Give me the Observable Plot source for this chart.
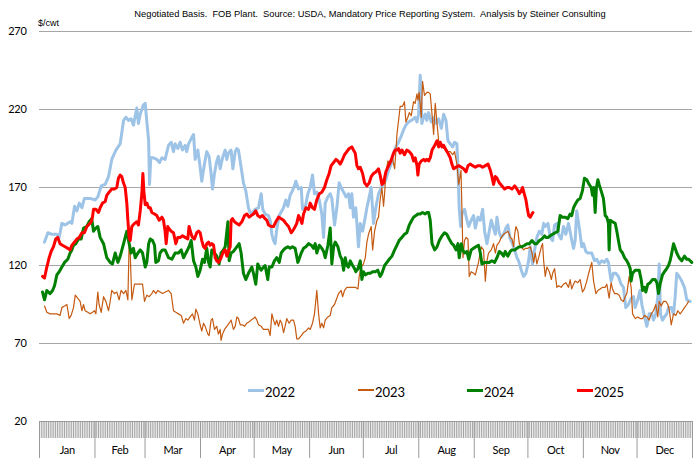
<!DOCTYPE html>
<html><head><meta charset="utf-8">
<script src="https://cdn.jsdelivr.net/npm/d3@7"></script>
<script src="https://cdn.jsdelivr.net/npm/@observablehq/plot@0.6"></script>
<style>
body{margin:0;background:#fff;}
#wrap{position:relative;width:698px;height:458px;overflow:hidden;}
#title{position:absolute;left:0;width:740px;top:9px;text-align:center;font:9.3px "Liberation Sans",Arial,sans-serif;color:#000;white-space:pre;}
#unit{position:absolute;left:38px;top:18px;font:9px "Liberation Sans",Arial,sans-serif;color:#000;}
.lg{position:absolute;font:13px Lato,sans-serif;color:#000;top:384px;}
.sw{position:absolute;}
svg text{letter-spacing:-0.3px;}
</style></head>
<body>
<div id="wrap">
<div id="chart"></div>
<div id="title">Negotiated Basis.  FOB Plant.  Source: USDA, Mandatory Price Reporting System.  Analysis by Steiner Consulting</div>
<div id="unit">$/cwt</div>
<div id="legend"></div>
</div>
<script>
const seriesNames = ["2022","2023","2024","2025"];
const seriesColors = ["#9dc3e6","#c55a11","#008000","#ff0000"];
const seriesWidths = [3,1.2,3,3];
const yTicks = [20,70,120,170,220,270];
const monthNames = ["Jan","Feb","Mar","Apr","May","Jun","Jul","Aug","Sep","Oct","Nov","Dec"];
const monthStarts = [0,31,59,90,120,151,181,212,243,273,304,334,365];

const d2022 = [[2.8,135],[4.7,141],[6.9,140],[9.7,140],[11,138],[12.5,147],[14.3,146],[17.1,148],[18.1,147],[19.6,158],[20.9,155],[22.2,160],[23.7,157],[25.1,163],[28.3,163],[31.1,162],[32.6,164],[34.5,171],[36.7,172],[38.6,177],[40.4,188],[42.7,194],[45.1,198],[47,213],[48.3,215],[49.7,213],[51.2,214],[52.5,210],[54.4,221],[55.3,211],[56.3,217],[58.1,223],[59.1,224],[60,212],[61,200],[61.5,172],[62.2,189],[63.7,189],[65.6,188],[67.1,186],[68.4,189],[70.2,188],
[72.1,197],[73.6,199],[74.9,193],[75.8,198],[77.3,195],[78.6,199],[79.9,194],[81.4,197],[82.3,193],[83.3,198],[85.1,202],[86.1,204],[87,188],[88.5,194],[89.8,183],[90.7,174],[92.2,185],[93.5,193],[94.8,190],[95.9,179],[96.7,169],[97.8,179],[99.1,187],[100,190],[101,182],[102.3,189],[103.8,194],[104.7,188],[105.6,192],[107.1,194],[108.1,182],[109.4,193],[110.3,195],[111.2,194],[112.7,183],[114,173],[115.3,168],[116.8,157],[117.7,154],[119,154],[120.5,156],[122.4,157],[123.9,166],[124.8,156],[126.1,153],[128,152],[128.9,149],[129.9,140],[130.8,136],[131.7,134],[132.6,143],[134,152],[135.4,155],[136.4,157],[137.7,162],[138.8,158],[140.1,165],[141.4,168],[142.5,171],[143.3,174],
[144.8,169],[146.3,170],[147,156],[148.5,157],[150,166],[151.3,170],[152.6,178],[153.7,166],[155,167],[156.4,162],[157.8,153],[158.8,138],[159.7,160],[161.2,164],[162.5,166],[163.4,163],[164.9,146],[166.2,157],[167.5,173],[168.6,170],[170,167],[171.3,164],[172.7,166],[173.7,157],[174.6,166],[175.5,151],[176.8,157],[178.3,132],[179.3,147],[180.6,142],[182.1,151],[183,157],[184.3,164],[185.4,170],[186.7,147],[188,157],[189.5,166],[191,170],[192.3,172],[193.6,175],[195.1,181],[196.6,185],[197.9,192],[199.2,196],[200.7,199],[202.2,203],[203.5,207],[204.8,210],[206.3,212],[207.8,213],[209.1,214],[210,215],[211,212],[211.9,217],[212.8,242],[213.7,211],[214.7,215],[215.6,217],[216.5,213],
[217.5,218],[219,212],[220.3,215],[221.6,211],[223.1,214],[224.6,208],[225.9,217],[227.2,213],[228.3,200],[229.6,198],[230.9,196],[232,199],[233.3,198],[233.9,183],[234.6,157],[235.4,145],[236.1,153],[237.6,156],[238.9,149],[239.9,145],[241.3,149],[242.6,152],[243.6,144],[245.1,151],[246.4,149],[247.7,156],[248.8,142],[250.1,134],[251.4,142],[252.5,149],[253.5,145],[254.8,140],[255.7,151],[257,141],[258.1,138],[259.4,140],[260.7,144],[261.8,146],[263.1,137],[264.4,134],[265.6,130],[266.9,125],[267.8,123],[269.3,117],[270.6,113],[271.9,115],[273.4,123],[274.3,132],[275.6,121],[276.7,130],[278,138],[279.4,142],[280.8,140],[281.8,147],[282.7,145],[284.2,147],[285.5,138],[286.8,136],[287.9,146],[289.2,147],
[290.1,140],[291.6,137],[292.9,145],[294.2,140],[295.7,147],[297.2,138],[298.5,131],[299.4,136],[300.3,155],[301.6,145],[303.1,132],[304.1,134],[305.4,129],[306.5,128],[307.8,128],[308.7,128],[310.2,123],[311.5,124],[312.8,121],[314.3,123],[315.8,122],[317.1,124],[318,122],[319.5,110],[320.8,115],[322.1,115],[323.6,113],[325.1,108],[326.4,106],[327.7,93],[329.2,95],[330.7,99],[332,100],[332.9,93],[334.4,98],[335.7,104],[336.7,95],[338.2,87],[339.5,81],[340.8,89],[342.3,89],[343.2,85],[344.5,89],[345.6,100],[346.4,121],[347.1,89],[348.2,85],[349.3,87],[350.6,89],[351.6,93],[353.1,93],[354.4,89],[355.3,100],[356.2,115],[357.5,113],[359,110],[360.5,106],[361.8,98],[363.7,97]];

const d2023 = [[2.8,94],[4.1,90],[5.9,89],[7.8,89],[9.7,89],[11.5,88],[12.5,93],[14,94],[15.3,95],[16.6,86],[17.7,88],[19,93],[20,101],[21.4,99],[22.7,97],[23.7,91],[24.6,95],[25.5,91],[27,90],[28.3,89],[29.6,90],[30.7,91],[31.5,89],[32.6,103],[33.3,95],[34.5,90],[35.8,100],[37.1,97],[38.6,91],[39.5,97],[40.4,104],[41.9,102],[43.2,103],[44.5,98],[45.6,104],[47,102],[48.3,104],[49.4,98],[50.1,134],[50.7,128],[51.6,98],[53.1,108],[54.4,108],[56.3,108],[57.6,108],[58.7,97],[60,101],[61.3,100],[62.8,102],[63.7,104],[65,102],[66.1,104],[67.4,103],[68.7,102],
[72.1,104],[73.6,102],[74.9,91],[76.2,90],[77.7,89],[79.2,88],[80.5,83],[81.8,86],[82.9,85],[84.2,87],[85.5,89],[86.6,85],[87.4,92],[88.5,89],[89.8,82],[90.7,78],[91.7,83],[92.6,81],[94.1,76],[94.8,75],[95.9,85],[96.7,86],[97.8,79],[99.1,81],[100,76],[101,79],[101.5,72],[102.3,76],[103.4,79],[104.7,81],[106,83],[107.1,85],[108.4,79],[109.4,81],[110.3,87],[111.2,86],[112.2,82],[113.5,82],[114.6,81],[115.9,83],[117.2,84],[118.3,85],[119.6,86],[120.5,87],[121.5,85],[122.4,82],[123.9,81],[125.2,79],[126.5,79],[128,79],[128.9,75],[129.9,89],[130.8,85],[131.7,82],[132.6,85],[133.6,81],[134.5,85],[135.4,83],[136.4,77],[137.3,81],[138.2,86],[139.5,83],[140.7,85],[142,85],[142.9,81],[143.8,73],
[144.8,73],[146.3,75],[147.6,77],[148.9,78],[150.4,80],[151.3,79],[152.6,83],[153.7,89],[155,104],[156,89],[156.9,80],[157.8,83],[158.8,80],[159.7,85],[161.2,87],[162.5,88],[163.4,93],[164.9,95],[166.2,99],[167.2,102],[168.6,104],[169.4,100],[170.5,104],[171.8,106],[172.7,106],[174.6,106],[176.5,106],[178,105],[178.7,113],[179.8,119],[181.1,121],[182.1,125],[183,135],[183.9,140],[185.4,145],[186.2,130],[187.3,142],[188.6,149],[189.5,151],[190.4,162],[191.4,170],[192.3,158],[192.9,166],[193.6,179],[194.7,187],[196,185],[197.3,189],[198.5,182],[199.2,193],[199.8,204],[200.7,213],[201.6,222],[202.9,222],[204,225],[204.8,212],[205.9,215],[206.7,218],[207.8,216],[209.1,225],[210,224],[211,230],[211.5,226],[212.2,231],[213.4,215],[214.1,238],[215.2,229],[216.5,231],
[217.5,231],[218.4,230],[219.4,217],[220.3,204],[221.2,224],[222.2,211],[223.1,200],[224,197],[225,198],[225.9,195],[226.8,196],[228.3,193],[229.6,193],[230.9,191],[232,193],[233.3,185],[234.3,172],[234.8,175],[235.6,181],[236.1,157],[236.7,125],[237.6,136],[238.4,138],[239.5,137],[240.2,113],[241.3,116],[242.6,115],[243.6,114],[245.4,122],[246.9,132],[248.2,130],[249.2,110],[250.1,123],[251,128],[252.5,130],[253.8,134],[254.8,128],[255.7,133],[257,135],[258.1,138],[259.4,140],[260.7,141],[261.8,142],[262.6,140],[263.1,138],[264.1,137],[265,132],[265.6,140],[266.3,145],[267.4,142],[268.2,134],[269.3,132],[270.6,130],[271.5,131],[273,131],[274.3,132],[275.3,128],[276.2,122],[277.1,128],[278,121],[279,125],[280.5,132],[281.2,134],[281.8,123],[282.7,113],[283.6,119],[285,116],[286.1,111],[286.8,115],[287.9,118],[289.2,106],
[290.1,107],[291.6,106],[292.9,108],[294.2,109],[295.7,106],[296.6,111],[297.5,105],[298.5,108],[299.4,110],[300.9,109],[302.2,111],[303.5,103],[304.6,105],[305.9,110],[307.2,116],[308.7,122],[309.7,110],[311,102],[312.1,104],[313.4,105],[314.7,106],[316.2,106],[317.1,108],[318.4,99],[319.5,109],[320.3,105],[321.4,102],[322.7,102],[324,101],[325.1,98],[326.4,97],[327.4,100],[328.3,102],[329.6,113],[330.7,106],[331.5,89],[333,86],[334.4,87],[335.7,86],[337.1,86],[338.2,88],[339.5,87],[340.8,85],[341.9,89],[343.2,91],[344.5,95],[345.6,87],[346.4,97],[347.5,94],[348.8,97],[350.1,97],[351.2,95],[352.1,91],[353.1,82],[354.4,89],[355.7,88],[356.8,91],[358.1,89],[359.4,91],[360.5,93],[361.8,95],[362.8,97]];

const d2024 = [[1.7,103],[2.8,98],[4.1,104],[5.9,102],[7.3,104],[8.4,107],[9.7,114],[11,116],[12.5,119],[14,122],[15.8,124],[17.1,128],[18.1,130],[19,133],[20.3,134],[21.8,137],[23.3,137],[24.6,144],[26.4,145],[27.7,148],[29.2,150],[30.2,142],[31.5,144],[32.6,145],[33.9,138],[35.8,134],[37.6,125],[39.5,122],[40.8,121],[42.3,128],[43.8,122],[45.1,126],[47,134],[48.8,142],[50.1,134],[51.2,128],[52.5,131],[53.5,125],[55,128],[56.3,130],[57.6,128],[59.1,119],[60,122],[61,134],[61.9,137],[63.2,136],[64.3,133],[65,122],[66.5,123],[67.4,128],[68.7,130],[70.2,130],
[72.1,125],[74,124],[75.8,128],[77.7,128],[79.2,130],[80.5,125],[82.3,129],[83.6,132],[84.8,136],[86.1,123],[87.4,119],[88.5,113],[89.8,117],[91.1,124],[92.2,122],[93.5,131],[94.5,122],[95.4,119],[96.3,130],[97.8,128],[99.1,126],[100.4,121],[101.5,128],[102.8,130],[103.8,132],[105.3,148],[106,123],[107.1,128],[108.4,129],[110.3,132],[111.6,134],[112.7,128],[114,115],[115.3,111],[116.8,115],[117.7,117],[118.7,119],[119.6,115],[120.9,108],[122,121],[122.8,119],[123.9,117],[125.2,119],[126.1,120],[127.6,111],[128.4,119],[129.9,119],[131.3,123],[132.6,125],[134,122],[135.1,128],[136.4,130],[137.3,131],[138.8,132],[140.1,131],[141.4,132],[142.9,131],[144.4,122],
[144.8,123],[146.3,128],[147.6,131],[148.9,132],[150.4,134],[151.9,133],[153.2,131],[154.1,134],[155,128],[156.4,133],[157.8,131],[158.8,129],[159.7,125],[161.2,133],[162.5,144],[163.4,121],[164.4,132],[165.3,135],[166.8,132],[168.1,126],[169,124],[170,117],[170.9,125],[171.8,120],[172.7,119],[173.7,123],[175,120],[176.1,118],[176.8,116],[178,118],[179.3,123],[180.2,111],[181.1,116],[182.1,114],[183.6,115],[184.9,115],[186.2,116],[187.7,116],[189.1,117],[190.4,113],[191.4,115],[192.9,120],[194.2,122],[195.5,124],[197,126],[198.5,130],[199.8,133],[201,136],[202.5,138],[204,140],[205.3,141],[206.7,146],[208.1,149],[209.1,151],[210.4,152],[211.5,153],[212.8,153],[214.1,154],[215.6,153],[216.5,154],
[217.5,154],[218.4,149],[219.4,134],[220.9,130],[222.2,132],[223.5,136],[225,139],[226.4,141],[227.7,140],[229,137],[230.5,134],[231.5,133],[232.8,130],[233.9,134],[234.6,125],[235.8,134],[236.5,130],[237.6,128],[238.9,129],[239.9,124],[241.3,130],[242.6,131],[243.9,132],[245.4,133],[246.4,128],[247.3,121],[248.8,122],[250.1,122],[251.4,122],[252.9,123],[254.4,122],[255.7,125],[257,129],[258.1,128],[259.4,126],[260.3,129],[261.8,126],[263.1,129],[264.1,130],[265.6,130],[266.9,131],[268.2,132],[269.7,132],[271.2,133],[272.5,134],[273.8,134],[275.3,136],[276.7,134],[278,134],[279.4,136],[280.8,137],[282.3,139],[283.1,138],[284.2,138],[285.5,139],[286.8,140],[288.3,141],[289.8,142],
[290.1,145],[291,152],[292.3,151],[293.8,151],[295.3,150],[296.6,153],[297.5,152],[298.5,157],[299.8,160],[300.9,162],[302.2,163],[303.5,168],[304.6,176],[305.9,175],[307.2,172],[308.4,170],[309.1,165],[309.8,170],[310.6,154],[311.3,170],[312.1,175],[312.8,172],[313.9,168],[315.2,163],[316.2,152],[317.1,151],[318,147],[318.4,130],[319,149],[320.3,148],[321.8,147],[322.7,142],[323.6,136],[324.6,130],[325.9,128],[327,125],[328.3,123],[329.2,121],[330.2,118],[330.7,110],[331.5,115],[333,117],[335.2,117],[336.3,111],[337.1,104],[338.2,106],[338.9,103],[340,108],[341.3,109],[342.6,111],[344.1,111],[345.1,109],[346,102],[346.9,108],[348.2,114],[349.3,116],[350.6,118],[351.6,120],[352.5,123],[353.4,128],[354.4,134],[355.3,131],[356.2,128],[357.5,125],[359,123],[360.5,126],[361.8,124],[362.8,124],[364.6,122]];

const d2025 = [[1.7,113],[2.8,112],[4.1,119],[5.4,125],[6.5,129],[7.8,132],[9.1,137],[10.2,138],[11.5,134],[12.8,133],[14.3,132],[15.8,131],[17.1,130],[18.1,133],[19.6,135],[20.9,137],[22.2,138],[23.7,141],[25.1,141],[26.5,145],[27.4,146],[28.9,148],[29.6,151],[30.2,156],[31.5,156],[33,154],[33.9,157],[35.2,160],[36.7,161],[37.6,165],[38.9,167],[40.4,169],[41.9,169],[43.2,170],[44.1,176],[45.1,178],[46,177],[46.9,173],[47.9,170],[48.8,160],[49.4,149],[50.1,138],[50.7,136],[51.6,145],[53.1,147],[54.4,148],[55.3,146],[56.3,155],[57.2,166],[57.8,179],[58.3,168],[59.1,159],[60,160],[61,157],[61.9,157],[62.8,154],[64.3,153],[65.6,152],[66.9,149],[68.4,151],[69.3,149],[70.2,142],[70.8,134],[71.7,145],
[72.1,144],[73.6,142],[74.9,141],[76.2,134],[77.3,138],[78.6,138],[79.9,139],[81.4,138],[82.9,137],[83.6,145],[84.8,140],[85.5,138],[86.6,137],[87.9,141],[88.9,142],[89.8,141],[90.7,136],[91.7,132],[92.6,131],[93.5,134],[94.5,135],[95.4,133],[96.3,134],[97.3,133],[98.2,125],[99.1,123],[100.1,122],[101.5,125],[102.8,129],[103.8,130],[104.7,126],[105.6,129],[106.6,132],[107.1,149],[107.9,150],[109,148],[110.3,147],[111.6,146],[113.1,148],[114.6,152],[115.9,153],[117.2,151],[118.3,152],[119.6,153],[120.9,155],[122,152],[123.3,151],[124.6,152],[126.1,150],[127.1,149],[128,146],[129.5,145],[130.8,145],[132.1,148],[133.6,151],[135.1,150],[136.4,149],[137.7,147],[139.2,145],[140.7,141],[141.4,142],[142.5,144],[143.8,147],
[144.8,152],[145.7,150],[146.7,147],[147.6,153],[148.9,157],[150.4,156],[151.3,160],[152.6,157],[153.7,156],[155,162],[156.4,166],[157.8,167],[159.3,170],[160.6,175],[161.9,179],[163,184],[164.4,186],[165.7,188],[166.8,187],[168.1,185],[169,187],[170.5,191],[171.8,193],[173.1,195],[174.6,196],[175.5,194],[176.5,192],[177.4,184],[178.3,182],[179.3,183],[180.6,179],[181.7,173],[183,171],[184.3,173],[185.4,177],[186.7,179],[188,180],[189.5,182],[190.4,178],[191.4,172],[192.3,173],[193.6,180],[194.7,183],[196,186],[197,189],[197.9,192],[198.8,194],[199.8,194],[200.7,195],[201.6,192],[202.6,194],[204,191],[205.3,194],[206.7,193],[208.1,191],[209.1,187],[210,189],[211,184],[211.5,178],[212.2,185],[213.4,187],[214.7,188],[215.6,187],[216.5,188],
[217.5,187],[218.4,189],[219.4,194],[220.9,197],[222.2,200],[223.1,196],[224,199],[225,196],[225.9,197],[227.2,194],[228.3,192],[229.6,189],[230.5,185],[231.5,182],[232.8,183],[234.3,184],[235.8,183],[237.1,182],[238.4,180],[239.5,184],[240.8,185],[242.1,184],[243.6,183],[245.1,184],[246.4,184],[247.7,183],[249.2,184],[250.7,185],[252,181],[252.9,177],[253.8,172],[254.8,177],[255.7,176],[257,173],[258.5,171],[260,169],[261.3,170],[262.6,170],[264.1,169],[265.6,171],[266.3,170],[267.4,168],[268.2,166],[269.3,168],[270,170],[271.2,165],[271.9,162],[272.6,157],[273.4,152],[274.3,151],[275.3,153],[275.8,154]];

const seriesData = [d2022, d2023, d2024, d2025];
const days = d3.range(0, 366);
const monthMids = monthStarts.slice(0, 12).map((s, i) => (s + monthStarts[i + 1]) / 2);

const lineMarks = seriesData.map((data, i) =>
  Plot.line(data, {x: d => d[0], y: d => d[1], stroke: seriesColors[i], strokeWidth: seriesWidths[i], strokeLinejoin: "round", strokeLinecap: "round"})
);

const chart = Plot.plot({
  width: 698, height: 458,
  marginLeft: 39, marginRight: 6, marginTop: 31, marginBottom: 37,
  x: {domain: [0, 365]},
  y: {domain: [20, 270]},
  style: {fontFamily: "Lato, sans-serif", background: "#fff", color: "#000"},
  marks: [
    Plot.gridY(yTicks, {stroke: "#a6a6a6", strokeOpacity: 1, strokeWidth: 1}),
    Plot.axisY(yTicks, {tickSize: 0, tickPadding: 13, fontSize: 11, label: null}),
    Plot.axisX(days, {tickSize: 17, stroke: "#8c8c8c", strokeWidth: 0.8, tickFormat: () => "", label: null}),
    Plot.axisX(monthStarts, {tickSize: 37, stroke: "#9a9a9a", tickFormat: () => "", label: null}),
    Plot.axisX(monthMids, {tickSize: 0, tickPadding: 25, fontSize: 11, tickFormat: d => monthNames[monthMids.indexOf(d)], label: null}),
    ...lineMarks
  ]
});
document.getElementById("chart").appendChild(chart);

// legend
const legendX = [248, 358, 467, 577];
const legend = document.getElementById("legend");
seriesNames.forEach((name, i) => {
  const sw = document.createElement("div");
  sw.className = "sw";
  const h = seriesWidths[i] < 2 ? 1.5 : 3;
  sw.style.cssText = `left:${legendX[i]}px;top:${390 - h / 2}px;width:16px;height:${h}px;background:${seriesColors[i]}`;
  legend.appendChild(sw);
  const t = document.createElement("div");
  t.className = "lg";
  t.style.left = (legendX[i] + 17) + "px";
  t.textContent = name;
  legend.appendChild(t);
});
</script>
</body></html>
